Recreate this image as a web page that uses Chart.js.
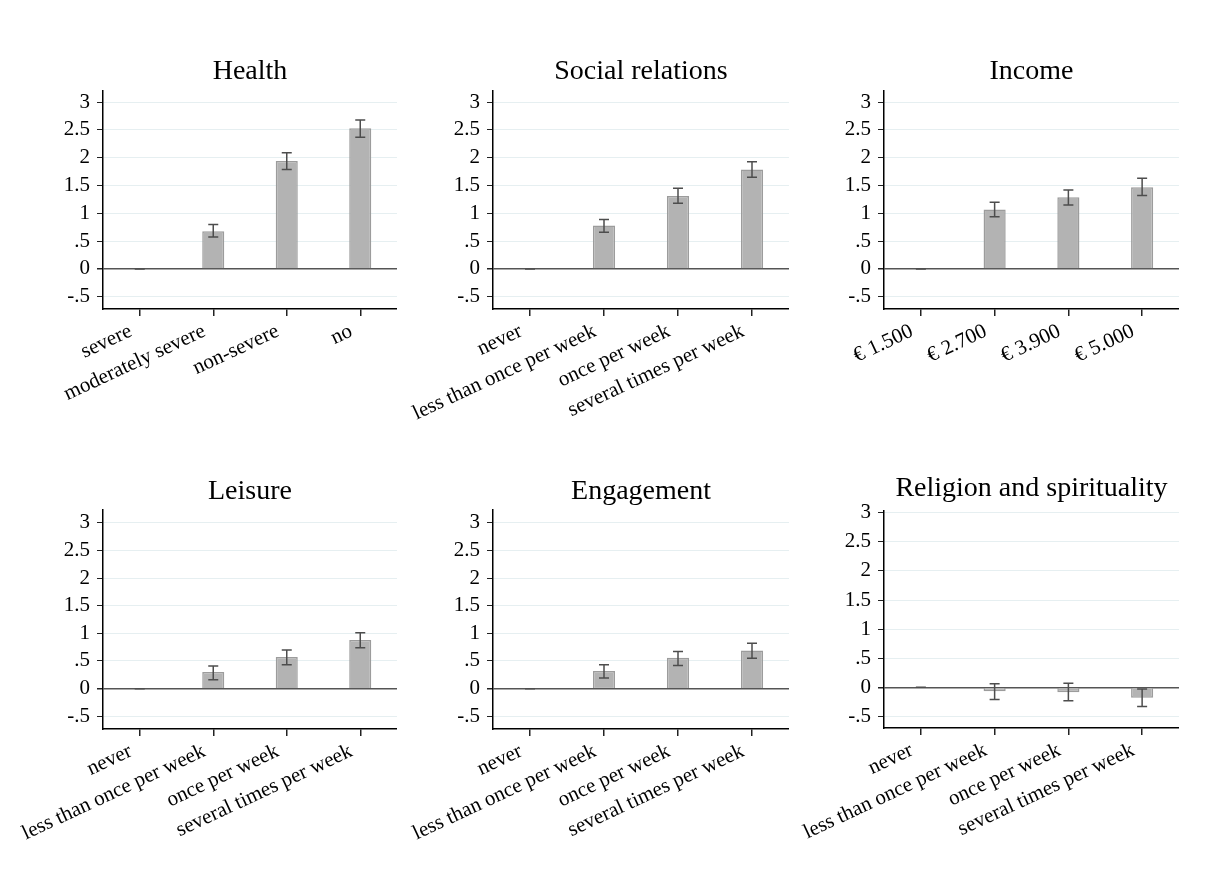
<!DOCTYPE html>
<html>
<head>
<meta charset="utf-8">
<script src="https://cdn.jsdelivr.net/npm/chart.js@4"></script>
<style>
  body { margin: 0; background: #fff; }
  #wrap { position: relative; width: 1215px; height: 886px; overflow: hidden; background: #fff; }
  #wrap canvas { position: absolute; }
</style>
</head>
<body>
<div id="wrap"></div>
<script>
// Category labels
const healthLabels = ['severe', 'moderately severe', 'non-severe', 'no'];
const freqLabels = ['never', 'less than once per week', 'once per week', 'several times per week'];
const incomeLabels = ['€ 1.500', '€ 2.700', '€ 3.900', '€ 5.000'];
const yTickValues = [-0.5, 0, 0.5, 1, 1.5, 2, 2.5, 3];

// Coefficients with lower / upper confidence bounds (first category = reference)
const healthCoef = [0, 0.68, 1.94, 2.53];
const healthLow  = [0, 0.575, 1.79, 2.37];
const healthHigh = [0, 0.80, 2.09, 2.68];

const socialCoef = [0, 0.78, 1.31, 1.79];
const socialLow  = [0, 0.66, 1.18, 1.65];
const socialHigh = [0, 0.89, 1.45, 1.93];

const incomeCoef = [0, 1.07, 1.29, 1.47];
const incomeLow  = [0, 0.94, 1.15, 1.32];
const incomeHigh = [0, 1.20, 1.42, 1.63];

const leisureCoef = [0, 0.30, 0.57, 0.88];
const leisureLow  = [0, 0.16, 0.43, 0.74];
const leisureHigh = [0, 0.41, 0.70, 1.01];

const engageCoef = [0, 0.32, 0.56, 0.69];
const engageLow  = [0, 0.19, 0.42, 0.55];
const engageHigh = [0, 0.43, 0.67, 0.82];

const religionCoef = [0, -0.07, -0.085, -0.18];
const religionLow  = [0, -0.21, -0.23, -0.33];
const religionHigh = [0, 0.06, 0.07, -0.03];

const panels = [
  { title: 'Health', labels: healthLabels, coef: healthCoef, lo: healthLow, hi: healthHigh },
  { title: 'Social relations', labels: freqLabels, coef: socialCoef, lo: socialLow, hi: socialHigh },
  { title: 'Income', labels: incomeLabels, coef: incomeCoef, lo: incomeLow, hi: incomeHigh },
  { title: 'Leisure', labels: freqLabels, coef: leisureCoef, lo: leisureLow, hi: leisureHigh },
  { title: 'Engagement', labels: freqLabels, coef: engageCoef, lo: engageLow, hi: engageHigh },
  { title: 'Religion and spirituality', labels: freqLabels, coef: religionCoef, lo: religionLow, hi: religionHigh }
];

// where each small chart sits on the page
const frames = [
  { left: 0,   top: 58,  axisX: 103, right: 397,  plotTop: 91,  plotBottom: 309, yMin: -0.72, yMax: 3.2 },
  { left: 400, top: 58,  axisX: 493, right: 789,  plotTop: 91,  plotBottom: 309, yMin: -0.72, yMax: 3.2 },
  { left: 790, top: 58,  axisX: 884, right: 1179, plotTop: 91,  plotBottom: 309, yMin: -0.72, yMax: 3.2 },
  { left: 0,   top: 478, axisX: 103, right: 397,  plotTop: 510, plotBottom: 729, yMin: -0.73, yMax: 3.23 },
  { left: 400, top: 478, axisX: 493, right: 789,  plotTop: 510, plotBottom: 729, yMin: -0.73, yMax: 3.23 },
  { left: 790, top: 475, axisX: 884, right: 1179, plotTop: 511, plotBottom: 728, yMin: -0.70, yMax: 3.03 }
];

const FONT = '"Liberation Serif", "Times New Roman", Times, serif';
const TITLE_SIZE = 28;
const X_AXIS_HEIGHT = 150;

// Stata-style numbers: .5 instead of 0.5
function stataNum(v) {
  return String(v).replace(/^(-?)0\./, '$1.');
}

// draws the confidence interval caps on top of the bars
const errorBars = {
  id: 'errorBars',
  afterDatasetsDraw(chart) {
    const { ctx } = chart;
    const y = chart.scales.y;
    const ds = chart.data.datasets[0];
    const meta = chart.getDatasetMeta(0);
    ctx.save();
    ctx.strokeStyle = '#4d4d4d';
    ctx.lineWidth = 1.5;
    meta.data.forEach((bar, i) => {
      const yLo = y.getPixelForValue(ds.ciLow[i]);
      const yHi = y.getPixelForValue(ds.ciHigh[i]);
      const half = 5;
      ctx.beginPath();
      ctx.moveTo(bar.x, yLo);
      ctx.lineTo(bar.x, yHi);
      ctx.moveTo(bar.x - half, yLo);
      ctx.lineTo(bar.x + half, yLo);
      ctx.moveTo(bar.x - half, yHi);
      ctx.lineTo(bar.x + half, yHi);
      ctx.stroke();
    });
    ctx.restore();
  }
};

const wrap = document.getElementById('wrap');

panels.forEach((p, idx) => {
  const f = frames[idx];
  const titleBlock = f.plotTop - f.top;
  const width = f.right - f.left;
  const height = titleBlock + (f.plotBottom - f.plotTop) + X_AXIS_HEIGHT;

  const canvas = document.createElement('canvas');
  canvas.width = width;
  canvas.height = height;
  canvas.style.left = f.left + 'px';
  canvas.style.top = f.top + 'px';
  canvas.style.width = width + 'px';
  canvas.style.height = height + 'px';
  wrap.appendChild(canvas);

  new Chart(canvas.getContext('2d'), {
    type: 'bar',
    data: {
      labels: p.labels,
      datasets: [{
        data: p.coef,
        ciLow: p.lo,
        ciHigh: p.hi,
        backgroundColor: '#b3b3b3',
        borderColor: '#9c9c9c',
        borderWidth: 1.5,
        barPercentage: 0.30,
        categoryPercentage: 1.0
      }]
    },
    options: {
      responsive: false,
      animation: false,
      devicePixelRatio: 1,
      layout: { padding: 0 },
      plugins: {
        legend: { display: false },
        tooltip: { enabled: false },
        title: {
          display: true,
          text: p.title,
          fullSize: false,
          color: '#000',
          font: { family: FONT, size: TITLE_SIZE, weight: 'normal', lineHeight: 1 },
          padding: { top: 0, bottom: titleBlock - TITLE_SIZE }
        }
      },
      scales: {
        x: {
          afterFit(scale) { scale.height = X_AXIS_HEIGHT; },
          grid: {
            display: true,
            drawOnChartArea: false,
            drawTicks: true,
            offset: false,
            tickLength: 7,
            tickColor: '#222',
            lineWidth: 1.5
          },
          border: { display: true, color: '#000', width: 1.5 },
          ticks: {
            autoSkip: false,
            minRotation: 25,
            maxRotation: 25,
            padding: 3,
            labelOffset: -9,
            color: '#000',
            font: { family: FONT, size: 21 }
          }
        },
        y: {
          min: f.yMin,
          max: f.yMax,
          afterFit(scale) { scale.width = f.axisX - f.left; },
          afterBuildTicks(scale) {
            scale.ticks = yTickValues.map(v => ({ value: v }));
          },
          grid: {
            color: c => (c.tick && c.tick.value === 0 ? '#555' : '#e6eff1'),
            lineWidth: c => (c.tick && c.tick.value === 0 ? 1.5 : 1),
            tickLength: 6,
            tickColor: '#222'
          },
          border: { display: true, color: '#000', width: 1.5 },
          ticks: {
            padding: 7,
            color: '#000',
            font: { family: FONT, size: 21 },
            callback: v => stataNum(v)
          }
        }
      }
    },
    plugins: [errorBars]
  });
});
</script>
</body>
</html>
